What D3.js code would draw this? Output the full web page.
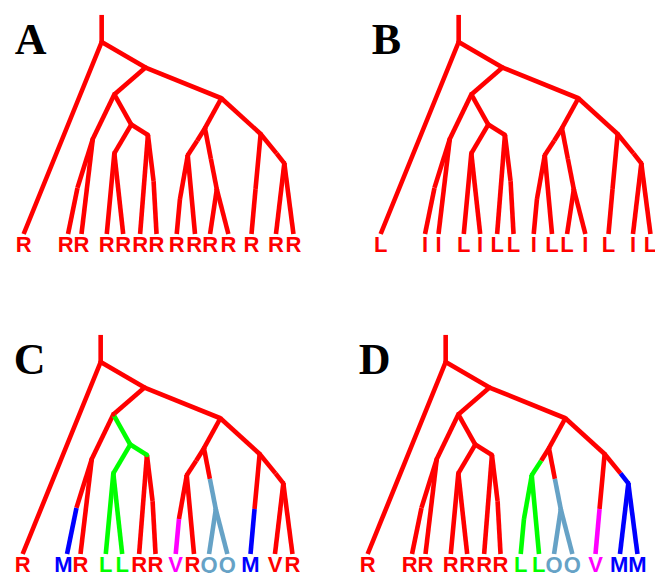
<!DOCTYPE html>
<html>
<head>
<meta charset="utf-8">
<script src="https://cdn.jsdelivr.net/npm/d3@7"></script>
<style>
  html, body { margin: 0; padding: 0; background: #fff; }
  svg { display: block; }
</style>
</head>
<body>
<svg id="chart" width="655" height="573"></svg>
<script>
// ---- Tree topology (shared by all four panels) ----
const nodeIds    = ["stem","root","L1","N1","N2","N3","N4","N5","u1","L2","L3","N6","L4","L5","N7","L6","u2","L7",
                    "N8","N9","u6","N10","u5","L8","L9","u3","N11","L10","L11","u4","L12","u7","N12","L13","L14"];
const nodeParent = [null,"stem","root","root","N1","N1","N2","N2","N4","u1","N4","N5","N6","N6","N5","N7","N7","u2",
                    "N3","N3","N8","u6","N10","u5","N10","N8","u3","N11","N11","N9","u4","N9","u7","N12","N12"];
// horizontal position (0 = first tip, 100 = last tip)
const nodeX      = [28.5,28.5,-0.5,44.8,33.2,73.0,25.2,39.5,19.5,16.0,21.0,33.2,30.4,36.5,45.7,42.8,47.8,48.9,
                    66.9,87.6,64.0,60.5,57.6,56.4,63.2,69.1,71.3,68.8,75.6,85.7,84.2,93.5,96.4,93.3,99.8];
// depth (0 = root, 100 = tips)
const nodeDepth  = [-14.1,0,100,13.3,27.3,29.3,50.5,43.0,76.0,100,100,58.0,100,100,48.4,100,72.4,100,
                    44.9,47.9,51.4,59.0,81.8,100,100,60.9,76.7,100,100,76.6,100,58.0,63.2,100,100];

const tipIds = ["L1","L2","L3","L4","L5","L6","L7","L8","L9","L10","L11","L12","L13","L14"];

// ---- Panels ----
const panelNames = ["A","B","C","D"];
const tipLabelsA = ["R","R","R","R","R","R","R","R","R","R","R","R","R","R"];
const tipLabelsB = ["L","I","I","L","I","L","L","I","L","L","I","L","I","L"];
const tipLabelsC = ["R","M","R","L","L","R","R","V","R","Q","Q","M","V","R"];
const tipLabelsD = ["R","R","R","R","R","R","R","L","L","Q","Q","V","M","M"];
// branch colour changes (node -> state of branch entering it; inherited downward)
const statesA = {};
const statesB = {};
const statesC = {L2:"M", N5:"L", L6:"R", u2:"R", L8:"V", N11:"Q", L12:"M"};
const statesD = {N10:"L", N11:"Q", L12:"V", N12:"M"};

const stateColor = {R:"#ff0000", L:"#00ff00", M:"#0000ff", V:"#ff00ff", Q:"#66a2c6", I:"#ff0000"};

const panels = [
  {name:panelNames[0], labels:tipLabelsA, states:statesA, dx:0,   dy:0},
  {name:panelNames[1], labels:tipLabelsB, states:statesB, dx:357, dy:0},
  {name:panelNames[2], labels:tipLabelsC, states:statesC, dx:-1,  dy:320},
  {name:panelNames[3], labels:tipLabelsD, states:statesD, dx:344, dy:320}
];

const x = d3.scaleLinear().domain([0,100]).range([25,294]);
const y = d3.scaleLinear().domain([0,100]).range([42,234]);

const nodes = nodeIds.map((id,i)=>({id, parent:nodeParent[i], x:nodeX[i], depth:nodeDepth[i]}));
const byId = new Map(nodes.map(n=>[n.id,n]));

const svg = d3.select("#chart");

panels.forEach(p=>{
  const g = svg.append("g").attr("transform",`translate(${p.dx},${p.dy})`);
  // resolve colours by inheritance
  const state = new Map();
  nodes.forEach(n=>{
    const inherited = n.parent ? state.get(n.parent) : "R";
    state.set(n.id, p.states[n.id] || inherited || "R");
  });

  const edges = nodes.filter(n=>n.parent);
  g.selectAll("line.branch").data(edges).join("line")
    .attr("class","branch")
    .attr("x1",d=>x(byId.get(d.parent).x))
    .attr("y1",d=>y(byId.get(d.parent).depth))
    .attr("x2",d=>x(d.x))
    .attr("y2",d=>y(d.depth))
    .attr("stroke",d=>stateColor[state.get(d.id)])
    .attr("stroke-width",4.6)
    .attr("stroke-linecap","butt");

  // smooth joints at branching nodes
  const joints = nodes.filter(n=>n.id[0]==="N" || n.id==="root");
  g.selectAll("circle.joint").data(joints).join("circle")
    .attr("class","joint")
    .attr("cx",d=>x(d.x)).attr("cy",d=>y(d.depth)).attr("r",2.3)
    .attr("fill",d=>stateColor[state.get(d.id)]);

  // tip labels
  const labels = g.selectAll("text.tip").data(tipIds).join("text")
    .attr("class","tip")
    .attr("x",d=>x(byId.get(d).x))
    .attr("y",y(100)+17.5)
    .attr("text-anchor","middle")
    .attr("font-family","'Liberation Sans', Arial, sans-serif")
    .attr("font-weight","bold")
    .attr("font-size",22)
    .attr("fill",(d,i)=>stateColor[state.get(d)])
    .text((d,i)=>p.labels[i]);

  // simple collision avoidance: push labels left when neighbours overlap
  const els = labels.nodes();
  const cx = tipIds.map(d=>x(byId.get(d).x));
  const w = els.map(e=>e.getComputedTextLength());
  for (let i = els.length-2; i >= 0; i--) {
    const minGap = (w[i]+w[i+1])/2;
    if (cx[i+1]-cx[i] < minGap) cx[i] = cx[i+1]-minGap;
  }
  els.forEach((e,i)=>d3.select(e).attr("x",cx[i]));

  // panel letter
  g.append("text")
    .attr("x",x(byId.get("root").x)-87)
    .attr("y",y(0)+12)
    .attr("font-family","'Liberation Serif', 'Times New Roman', serif")
    .attr("font-weight","bold")
    .attr("font-size",44)
    .attr("fill","#000")
    .text(p.name);
});
</script>
</body>
</html>
